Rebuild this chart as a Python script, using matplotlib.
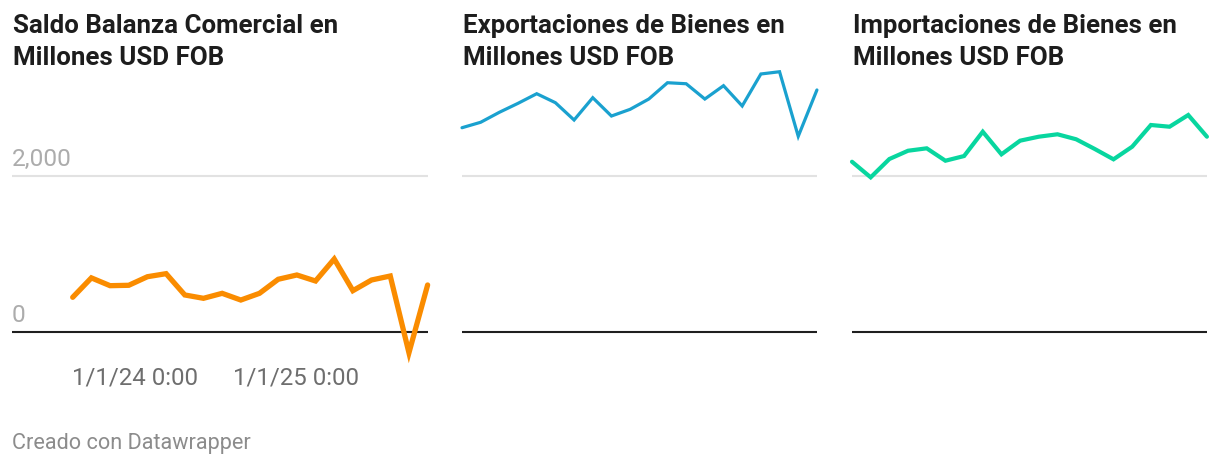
import matplotlib.pyplot as plt
import numpy as np

plt.rcParams["font.family"] = ["Roboto", "DejaVu Sans"]

# monthly values, millones USD FOB
saldo = [441, 690, 590, 595, 705, 744, 471, 428, 492, 406,
         492, 672, 727, 650, 932, 526, 663, 714, -270, 599]
exportaciones = [2615, 2685, 2813, 2928, 3051, 2936, 2714, 3000, 2765, 2851,
                 2983, 3192, 3179, 2983, 3154, 2894, 3304, 3333, 2505, 3099]
importaciones = [2179, 1979, 2214, 2320, 2351, 2192, 2252, 2564, 2274, 2449,
                 2500, 2531, 2467, 2342, 2210, 2372, 2650, 2628, 2778, 2500]

titles = [
    "Saldo Balanza Comercial en\nMillones USD FOB",
    "Exportaciones de Bienes en\nMillones USD FOB",
    "Importaciones de Bienes en\nMillones USD FOB",
]
colors = ["#fa8c00", "#1aa1cf", "#08d69f"]
widths = [3.8, 2.3, 3.0]
date_labels = ["1/1/24 0:00", "1/1/25 0:00"]
date_pos = [3.35, 11.95]
y_ticks = [0, 2000]
y_tick_labels = ["0", "2,000"]

W, H = 1220, 468
fig = plt.figure(figsize=(W / 100, H / 100), dpi=100)

# pixel geometry
zero_px, two_k_px = 331.7, 175.7
per_px = 2000 / (zero_px - two_k_px)
ax_top, ax_bot = 60, 360
ylim = ((zero_px - ax_bot) * per_px, (zero_px - ax_top) * per_px)
step = 18.68


def px_axes(left, right):
    return fig.add_axes([left / W, 1 - ax_bot / H, (right - left) / W,
                         (ax_bot - ax_top) / H])


panels = [(12, 72.7), (462, 462), (852, 852)]
series = [saldo, exportaciones, importaciones]

for i, ((left, x0), vals) in enumerate(zip(panels, series)):
    right = x0 + step * (len(vals) - 1)
    ax = px_axes(left, right)
    ax.set_xlim(-(x0 - left) / step, len(vals) - 1)
    ax.set_ylim(*ylim)
    ax.axis("off")
    ax.axhline(2000, color="#e2e2e2", lw=1.5, zorder=1)
    ax.axhline(0, color="#1f1f1f", lw=1.5, zorder=2)
    ax.plot(np.arange(len(vals)), vals, color=colors[i], lw=widths[i],
            solid_joinstyle="miter", solid_capstyle="round", clip_on=False,
            zorder=3)

    for k, line in enumerate(titles[i].split("\n")):
        fig.text((left + 1) / W, 1 - (33 + 32 * k) / H, line, fontsize=18.6,
                 fontweight="bold", color="#1d1d1d", va="baseline")

    if i == 0:
        for v, lab in zip(y_ticks, y_tick_labels):
            ax.annotate(lab, xy=(0, v), xycoords=("axes fraction", "data"),
                        xytext=(0, 7), textcoords="offset points",
                        fontsize=17.6, color="#acacac", va="baseline",
                        ha="left")
        for p, lab in zip(date_pos, date_labels):
            ax.text(p, (zero_px - 378.5) * per_px, lab, fontsize=17.3,
                    color="#6e6e6e", ha="center", va="center")

fig.text(12 / W, 1 - 443 / H, "Creado con Datawrapper", fontsize=15.6,
         color="#8c8c8c", va="center", ha="left")

fig.savefig("out.png", dpi=100)
